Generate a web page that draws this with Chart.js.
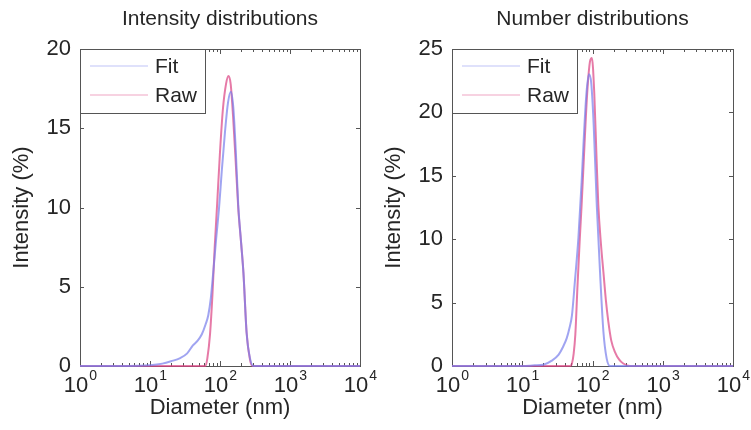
<!DOCTYPE html>
<html>
<head>
<meta charset="utf-8">
<script src="https://cdn.jsdelivr.net/npm/chart.js@4.4.1/dist/chart.umd.min.js"></script>
<style>
    html, body { margin: 0; padding: 0; background: #fff; }
    #wrap { position: relative; width: 751px; height: 430px; overflow: hidden; }
    .panel { position: absolute; top: 0; }
</style>
</head>
<body>
<div id="wrap">
    <div class="panel" style="left:0px;"><canvas id="chart-intensity" width="385" height="430"></canvas></div>
    <div class="panel" style="left:372px;"><canvas id="chart-number" width="379" height="430"></canvas></div>
</div>
<script>
// 強度分布 (Intensity distributions)
const intFitDiameter = [1, 5, 10, 15, 20, 27, 34, 41, 48, 55, 62, 68, 74, 80, 88, 97, 106, 118, 130, 143, 155, 168, 182, 200, 216, 240, 268, 300, 10000];
const intFitValue    = [0, 0, 0.05, 0.15, 0.3, 0.5, 0.8, 1.3, 1.6, 2.0, 2.6, 3.2, 4.3, 5.9, 8.0, 10.0, 12.3, 14.8, 16.6, 17.3, 16.3, 13.6, 10.2, 7.8, 5.9, 2.1, 0.5, 0, 0];
const intRawDiameter = [1, 10, 40, 62, 66, 72, 78, 84, 91, 100, 110, 122, 132, 142, 155, 168, 182, 200, 216, 240, 268, 290, 10000];
const intRawValue    = [0, 0, 0, 0, 0.5, 2.0, 4.5, 7.5, 10.2, 13.5, 16.2, 17.8, 18.3, 17.8, 15.5, 12.8, 10.0, 7.8, 5.9, 2.1, 0.4, 0, 0];

// 個数分布 (Number distributions)
const numFitDiameter = [1, 10, 15, 20, 26, 33, 38, 43, 47, 51, 56, 63, 70, 76, 82, 89, 96, 104, 115, 128, 143, 159, 177, 10000];
const numFitValue    = [0, 0, 0.05, 0.1, 0.4, 0.9, 1.5, 2.2, 3.0, 4.0, 6.6, 10.1, 14.5, 18.5, 21.5, 23.0, 22.3, 19.0, 12.7, 7.4, 2.7, 0.6, 0, 0];
const numRawDiameter = [1, 10, 48, 51, 54, 57, 61, 66, 70, 77, 84, 92, 98, 106, 114, 121, 132, 143, 155, 168, 185, 209, 240, 274, 342, 10000];
const numRawValue    = [0, 0, 0, 0.2, 1.0, 2.5, 6.2, 10.1, 12.7, 17.5, 21.5, 24.0, 24.3, 21.5, 16.5, 12.7, 9.6, 7.4, 5.2, 3.5, 2.0, 1.1, 0.5, 0.2, 0, 0];

// 軸の設定
const xDecades = [0, 1, 2, 3, 4];          // 10^0 ... 10^4
const xMinorSteps = [2, 3, 4, 5, 6, 7, 8, 9];
const seriesLabels = ['Fit', 'Raw'];
const seriesColors = ['rgba(120, 125, 235, 0.7)', 'rgba(220, 65, 130, 0.7)'];

const FONT = "'Liberation Sans', Arial, Helvetica, sans-serif";
const TEXT_COLOR = '#262626';
const AXIS_COLOR = '#555';

function toPoints(diameters, values) {
    return diameters.map(function (d, i) { return { x: d, y: values[i] }; });
}

// 対数軸の目盛り位置 (1,2,...,9,10,20,...)
function logTickValues() {
    const values = [];
    xDecades.forEach(function (e) {
        const base = Math.pow(10, e);
        values.push(base);
        if (e < xDecades[xDecades.length - 1]) {
            xMinorSteps.forEach(function (m) { values.push(m * base); });
        }
    });
    return values;
}

// 枠と内向きの目盛り (データの下に描く)
const matlabFramePlugin = {
    id: 'matlabFrame',
    beforeDatasetsDraw(chart) {
        const ctx = chart.ctx;
        const a = chart.chartArea;
        const xs = chart.scales.x;
        const ys = chart.scales.y;
        ctx.save();
        ctx.strokeStyle = AXIS_COLOR;
        ctx.lineWidth = 1;
        ctx.strokeRect(Math.round(a.left) + 0.5, Math.round(a.top) + 0.5,
            Math.round(a.right - a.left), Math.round(a.bottom - a.top));

        // x 目盛り (上下)
        xs.ticks.forEach(function (t) {
            const px = Math.round(xs.getPixelForValue(t.value)) + 0.5;
            const major = Number.isInteger(Math.log10(t.value));
            const len = major ? 5 : 3;
            ctx.beginPath();
            ctx.moveTo(px, a.bottom);
            ctx.lineTo(px, a.bottom - len);
            ctx.moveTo(px, a.top);
            ctx.lineTo(px, a.top + len);
            ctx.stroke();
        });

        // y 目盛り (左右)
        ys.ticks.forEach(function (t) {
            const py = Math.round(ys.getPixelForValue(t.value)) + 0.5;
            ctx.beginPath();
            ctx.moveTo(a.left, py);
            ctx.lineTo(a.left + 4, py);
            ctx.moveTo(a.right, py);
            ctx.lineTo(a.right - 4, py);
            ctx.stroke();
        });
        ctx.restore();
    }
};

// タイトル、10^n ラベル、凡例
const matlabLabelsPlugin = {
    id: 'matlabLabels',
    afterDatasetsDraw(chart, args, opts) {
        const ctx = chart.ctx;
        const a = chart.chartArea;
        const xs = chart.scales.x;
        ctx.save();

        // x ラベル 10^n
        ctx.fillStyle = TEXT_COLOR;
        ctx.textBaseline = 'alphabetic';
        ctx.textAlign = 'left';
        xDecades.forEach(function (e) {
            const px = xs.getPixelForValue(Math.pow(10, e));
            ctx.font = '22px ' + FONT;
            const wBase = ctx.measureText('10').width;
            ctx.font = '14px ' + FONT;
            const wExp = ctx.measureText(String(e)).width;
            const x0 = px - (wBase + wExp) / 2;
            ctx.font = '22px ' + FONT;
            ctx.fillText('10', x0, 392);
            ctx.font = '14px ' + FONT;
            ctx.fillText(String(e), x0 + wBase + 1, 380);
        });

        // タイトル
        ctx.font = '21px ' + FONT;
        ctx.textAlign = 'center';
        ctx.textBaseline = 'middle';
        ctx.fillText(opts.text, (a.left + a.right) / 2, 19);

        // 凡例
        const lx = Math.round(a.left) + 0.5;
        const ly = Math.round(a.top) + 0.5;
        ctx.fillStyle = '#fff';
        ctx.fillRect(lx, ly, 125, 64);
        ctx.strokeStyle = AXIS_COLOR;
        ctx.lineWidth = 1;
        ctx.strokeRect(lx, ly, 125, 64);
        chart.data.datasets.forEach(function (ds, i) {
            const yy = a.top + 17 + i * 29;
            ctx.strokeStyle = ds.borderColor;
            ctx.globalAlpha = 0.45;
            ctx.lineWidth = 1.5;
            ctx.beginPath();
            ctx.moveTo(a.left + 10, yy);
            ctx.lineTo(a.left + 68, yy);
            ctx.stroke();
            ctx.globalAlpha = 1;
            ctx.fillStyle = TEXT_COLOR;
            ctx.font = '21px ' + FONT;
            ctx.textAlign = 'left';
            ctx.textBaseline = 'middle';
            ctx.fillText(ds.label, a.left + 75, yy + 1);
        });
        ctx.restore();
    }
};

function drawDistribution(canvasID, title, fitPoints, rawPoints, yMax, rightPad) {
    const datasets = [fitPoints, rawPoints].map(function (pts, i) {
        return {
            label: seriesLabels[i],
            data: pts,
            borderColor: seriesColors[i],
            borderWidth: 2,
            pointRadius: 0,
            fill: false,
            clip: 2,
            cubicInterpolationMode: 'monotone'
        };
    });

    const options = {
        responsive: false,
        animation: false,
        layout: { padding: { top: 49, right: rightPad, left: 0, bottom: 0 } },
        scales: {
            x: {
                type: 'logarithmic',
                min: 1,
                max: 10000,
                grid: { display: false, drawTicks: false },
                border: { display: false },
                ticks: { display: false, autoSkip: false },
                afterBuildTicks: function (scale) {
                    scale.ticks = logTickValues().map(function (v) { return { value: v }; });
                },
                afterFit: function (scale) { scale.height = 64; },
                title: {
                    display: true,
                    text: 'Diameter (nm)',
                    color: TEXT_COLOR,
                    font: { family: FONT, size: 22 },
                    padding: { top: 0, bottom: 9 }
                }
            },
            y: {
                min: 0,
                max: yMax,
                grid: { display: false, drawTicks: false },
                border: { display: false },
                ticks: {
                    stepSize: 5,
                    padding: 9,
                    color: TEXT_COLOR,
                    font: { family: FONT, size: 22 }
                },
                afterFit: function (scale) { scale.width = 80; },
                title: {
                    display: true,
                    text: 'Intensity (%)',
                    color: TEXT_COLOR,
                    font: { family: FONT, size: 22 },
                    padding: { top: 9, bottom: 0 }
                }
            }
        },
        plugins: {
            legend: { display: false },
            tooltip: { enabled: false },
            matlabLabels: { text: title }
        }
    };

    const ctx = document.getElementById(canvasID).getContext('2d');
    return new Chart(ctx, {
        type: 'line',
        data: { datasets: datasets },
        options: options,
        plugins: [matlabFramePlugin, matlabLabelsPlugin]
    });
}

drawDistribution('chart-intensity', 'Intensity distributions',
    toPoints(intFitDiameter, intFitValue), toPoints(intRawDiameter, intRawValue), 20, 25);
drawDistribution('chart-number', 'Number distributions',
    toPoints(numFitDiameter, numFitValue), toPoints(numRawDiameter, numRawValue), 25, 18);
</script>
</body>
</html>
